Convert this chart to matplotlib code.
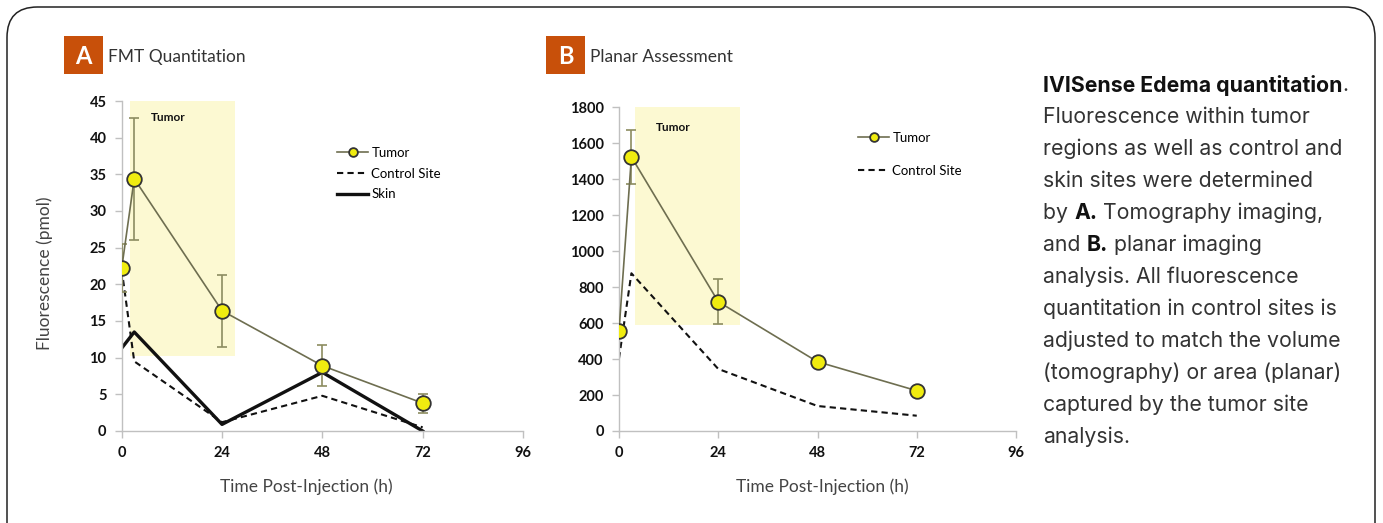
import matplotlib
matplotlib.use("Agg")
import matplotlib.pyplot as plt
from matplotlib.patches import FancyBboxPatch, Rectangle

# ---------------- data ----------------
time_a = [0, 3, 24, 48, 72]
tumor_a = [22.2, 34.4, 16.4, 8.9, 3.8]
tumor_a_err = [3.3, 8.3, 4.9, 2.8, 1.3]
control_a = [22.0, 9.5, 1.2, 4.8, 0.5]
skin_a = [11.3, 13.5, 0.9, 8.0, 0.0]

time_b = [0, 3, 24, 48, 72]
tumor_b = [556, 1524, 719, 385, 224]
tumor_b_err = [20, 148, 125, 25, 18]
control_b = [404, 877, 345, 139, 85]

xticks = [0, 24, 48, 72, 96]
yticks_a = [0, 5, 10, 15, 20, 25, 30, 35, 40, 45]
yticks_b = [0, 200, 400, 600, 800, 1000, 1200, 1400, 1600, 1800]

caption_lines = [
    "Fluorescence within tumor",
    "regions as well as control and",
    "skin sites were determined",
    None,  # "by A. Tomography imaging,"
    None,  # "and B. planar imaging"
    "analysis. All fluorescence",
    "quantitation in control sites is",
    "adjusted to match the volume",
    "(tomography) or area (planar)",
    "captured by the tumor site",
    "analysis.",
]

W, H = 1383, 523
fig = plt.figure(figsize=(W / 100, H / 100), dpi=100)
fig.patch.set_facecolor("white")

FONT = "Lato"
CAP_FONT = "Inter"
ORANGE = "#c8500a"
TUMOR_LINE = "#6e6e50"
ERR_COL = "#8c8c60"
SHADE = "#fcf9d2"
GRAY_TXT = "#444444"


def px_axes(x0, y0, x1, y1):
    return fig.add_axes([x0 / W, 1 - y1 / H, (x1 - x0) / W, (y1 - y0) / H])


# border
border = FancyBboxPatch((7 / W, -40 / H), (1375 - 7) / W, (523 - 7 + 40) / H,
                        boxstyle="round,pad=0,rounding_size=0.022",
                        transform=fig.transFigure, fill=False,
                        edgecolor="#222222", linewidth=1.1,
                        mutation_aspect=W / H)
fig.patches.append(border)


def style_axes(ax, ymax, yticks, x0, x1, y0, y1, xlab_center):
    ax.set_xlim(0, 96)
    ax.set_ylim(0, ymax)
    ax.set_xticks(xticks)
    ax.set_yticks(yticks)
    for s in ["top", "right"]:
        ax.spines[s].set_visible(False)
    for s in ["left", "bottom"]:
        ax.spines[s].set_color("#c0c0c0")
        ax.spines[s].set_linewidth(1.0)
    ax.tick_params(direction="out", length=5, color="#c0c0c0", width=1.0,
                   labelsize=10.5, labelcolor="#111111", pad=6)
    for lab in ax.get_xticklabels() + ax.get_yticklabels():
        lab.set_fontweight("bold")
        lab.set_family(FONT)
    ax.set_facecolor("none")
    ax.set_xlabel("Time Post-Injection (h)", fontsize=12.5, family=FONT,
                  color=GRAY_TXT)
    ax.xaxis.set_label_coords((xlab_center - x0) / (x1 - x0), -(487 - y1) / (y1 - y0))
    ax.xaxis.label.set_va("center")


# ---------------- panel A ----------------
A = (121.7, 101, 523, 431)
axA = px_axes(*A)
axA.add_patch(Rectangle((2.0, 10.2), 25.2, 45 - 10.2, facecolor=SHADE,
                        edgecolor="none", zorder=0))
axA.text(7.0, 42.7, "Tumor", fontsize=8.5, fontweight="bold", family=FONT,
         color="#111111", va="center")
axA.plot(time_a, control_a, color="#111111", lw=1.5, ls=(0, (3, 2)),
         label="Control Site", zorder=2)
axA.plot(time_a, skin_a, color="#111111", lw=2.4, label="Skin", zorder=2)
axA.errorbar(time_a, tumor_a, yerr=tumor_a_err, fmt="none", ecolor=ERR_COL,
             elinewidth=1.2, capsize=3.5, capthick=1.2, zorder=3)
axA.plot(time_a, tumor_a, color=TUMOR_LINE, lw=1.2, marker="o", ms=10.5,
         mfc="#f0ec10", mec="#333333", mew=1.3, label="Tumor", zorder=4)
style_axes(axA, 45, yticks_a, A[0], A[2], A[1], A[3], 306)
axA.set_ylabel("Fluorescence (pmol)", fontsize=12.5, family=FONT,
               color=GRAY_TXT)
axA.yaxis.set_label_coords(-(A[0] - 45) / (A[2] - A[0]), (A[3] - 273) / (A[3] - A[1]))
axA.yaxis.label.set_va("center")
h, l = axA.get_legend_handles_labels()
order = [2, 0, 1]
legA = axA.legend([h[i] for i in order], [l[i] for i in order],
                  loc="upper left",
                  bbox_to_anchor=((337 - A[0]) / (A[2] - A[0]), (A[3] - 147) / (A[3] - A[1])),
                  frameon=False, handlelength=2.35, handletextpad=0.25,
                  borderpad=0, borderaxespad=0,
                  labelspacing=0.65, prop={"family": FONT, "size": 9.5},
                  markerscale=0.6)

# ---------------- panel B ----------------
B = (619, 107.3, 1016, 431)
axB = px_axes(*B)
axB.add_patch(Rectangle((3.9, 590), 29.2 - 3.9, 1800 - 590, facecolor=SHADE,
                        edgecolor="none", zorder=0))
axB.text(9.0, 1690, "Tumor", fontsize=8.5, fontweight="bold", family=FONT,
         color="#111111", va="center")
axB.plot(time_b, control_b, color="#111111", lw=1.5, ls=(0, (3, 2)),
         label="Control Site", zorder=2)
axB.errorbar(time_b, tumor_b, yerr=tumor_b_err, fmt="none", ecolor=ERR_COL,
             elinewidth=1.2, capsize=3.5, capthick=1.2, zorder=3)
axB.plot(time_b, tumor_b, color=TUMOR_LINE, lw=1.2, marker="o", ms=10.5,
         mfc="#f0ec10", mec="#333333", mew=1.3, label="Tumor", zorder=4)
style_axes(axB, 1800, yticks_b, B[0], B[2], B[1], B[3], 822)
h, l = axB.get_legend_handles_labels()
legB = axB.legend([h[1], h[0]], [l[1], l[0]],
                  loc="upper left",
                  bbox_to_anchor=((858 - B[0]) / (B[2] - B[0]), (B[3] - 132) / (B[3] - B[1])),
                  frameon=False, handlelength=2.35, handletextpad=0.25,
                  borderpad=0, borderaxespad=0,
                  labelspacing=1.56, prop={"family": FONT, "size": 9.5},
                  markerscale=0.6)

# ---------------- panel headers ----------------
for (x0, letter, title) in [(64, "A", "FMT Quantitation"), (546, "B", "Planar Assessment")]:
    fig.patches.append(Rectangle((x0 / W, 1 - 74 / H), 38.5 / W, 38 / H,
                                 transform=fig.transFigure, facecolor=ORANGE,
                                 edgecolor="none"))
    fig.text((x0 + 19.5) / W, 1 - 56 / H, letter, color="white", fontsize=17,
             fontweight="bold", family=FONT, ha="center", va="center")
    fig.text((x0 + 44) / W, 1 - 57 / H, title, color="#333333", fontsize=12.5,
             family=FONT, ha="left", va="center")

# ---------------- caption ----------------
renderer = fig.canvas.get_renderer()
cx = 1043 / W
y0 = 85
dy = 32
fs = 15.3


def mixed_line(y, parts):
    x = cx * W
    for txt, bold in parts:
        t = fig.text(x / W, 1 - y / H, txt, fontsize=fs, family=CAP_FONT,
                     fontweight="bold" if bold else "normal",
                     color="#111111" if bold else "#333333", va="center")
        x = t.get_window_extent(renderer).x1


mixed_line(y0, [("IVISense Edema quantitation", True), (".", False)])
for i, line in enumerate(caption_lines):
    y = y0 + dy * (i + 1)
    if line is None:
        continue
    fig.text(cx, 1 - y / H, line, fontsize=fs, family=CAP_FONT, color="#333333",
             va="center")
mixed_line(y0 + dy * 4, [("by ", False), ("A.", True), (" Tomography imaging,", False)])
mixed_line(y0 + dy * 5, [("and ", False), ("B.", True), (" planar imaging", False)])

fig.savefig("out.png", dpi=100, facecolor="white")
